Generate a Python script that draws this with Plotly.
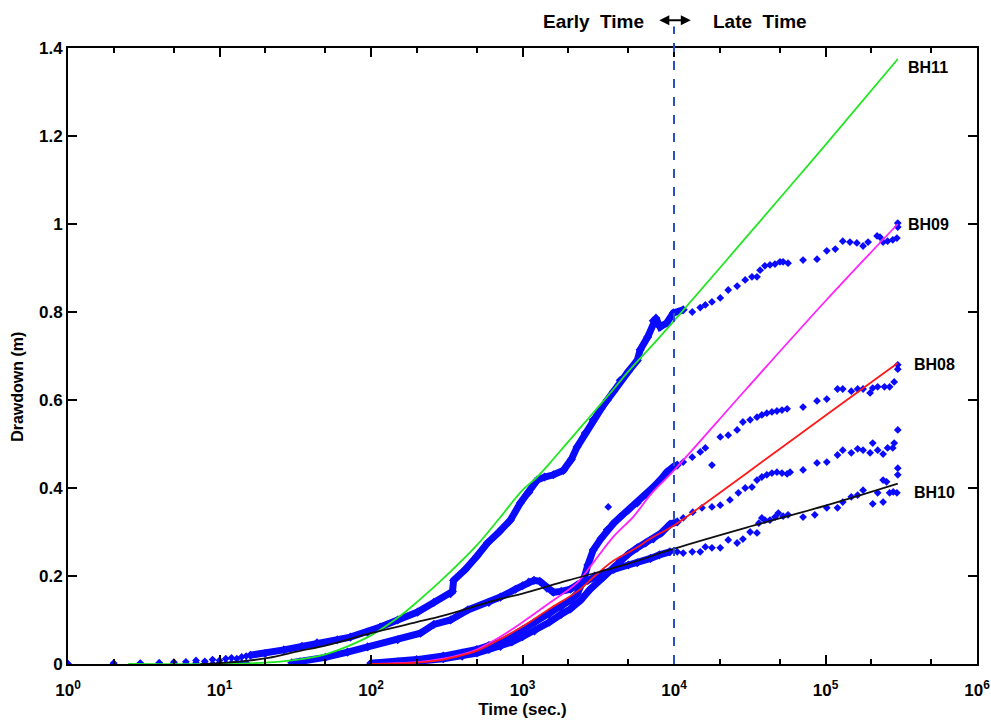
import numpy as np
import plotly.graph_objects as go

# ---------------- fitted curves ----------------
fit_bh11_t = [2.5, 10, 20, 30, 50, 70, 100, 150, 200, 335, 500, 700, 1000, 1250, 1500, 2000, 3000, 4000, 5000, 6000, 7000, 10000, 30000, 100000, 300000]
fit_bh11_s = [0.0, 0.0, 0.003, 0.008, 0.022, 0.04, 0.065, 0.105, 0.14, 0.21, 0.27, 0.33, 0.395, 0.425, 0.455, 0.505, 0.575, 0.625, 0.665, 0.695, 0.72, 0.78, 0.97, 1.18, 1.375]

fit_bh09_t = [100, 200, 300, 400, 500, 700, 1000, 1600, 2300, 3000, 4000, 5400, 7000, 10000, 30000, 100000, 300000]
fit_bh09_s = [0.0, 0.004, 0.012, 0.022, 0.033, 0.06, 0.095, 0.145, 0.185, 0.235, 0.29, 0.335, 0.385, 0.44, 0.625, 0.825, 1.0]

fit_bh08_t = [100, 200, 300, 400, 500, 700, 1000, 1500, 2300, 3000, 4000, 5400, 7000, 10000, 14900, 30000, 100000, 300000]
fit_bh08_s = [0.0, 0.003, 0.01, 0.02, 0.03, 0.055, 0.085, 0.125, 0.165, 0.2, 0.235, 0.26, 0.285, 0.315, 0.357, 0.433, 0.565, 0.684]

fit_bh10_t = [7.5, 10, 15, 21, 34, 50, 100, 200, 300, 715, 1000, 2000, 5000, 10000, 30000, 100000, 300000]
fit_bh10_s = [0.0, 0.002, 0.007, 0.014, 0.03, 0.042, 0.07, 0.095, 0.11, 0.148, 0.16, 0.19, 0.228, 0.262, 0.31, 0.36, 0.41]

# ---------------- measured drawdown (blue dots) ----------------
early_t = [1, 2, 3, 4, 5, 6, 7, 8, 9, 10, 11, 12, 13, 14, 15]
early_bh11_s = [0.0, 0.002, 0.002, 0.003, 0.004, 0.005, 0.008, 0.006, 0.01, 0.008, 0.012, 0.014, 0.012, 0.016, 0.018]
early_other_s = [0.0, 0.0, 0.001, 0.0, 0.001, 0.0, 0.002, 0.001, 0.0, 0.002, 0.001, 0.002, 0.003, 0.002, 0.003]

bh11_dense_t = [16, 20, 26.6, 35, 44, 60, 73, 95, 115, 150, 203, 260, 335, 345, 351, 420, 500, 587, 700, 832, 968, 1100, 1250, 1400, 1600, 1860, 2100, 2290, 2600, 2930, 3300, 3630, 4000, 4420, 5000, 5720, 5980, 6700, 7300, 7600, 8100, 8950, 9900, 11500]
bh11_dense_s = [0.02, 0.024, 0.032, 0.04, 0.048, 0.055, 0.061, 0.072, 0.084, 0.1, 0.118, 0.14, 0.16, 0.165, 0.19, 0.215, 0.245, 0.275, 0.3, 0.327, 0.366, 0.39, 0.418, 0.425, 0.43, 0.44, 0.465, 0.493, 0.525, 0.555, 0.58, 0.6, 0.62, 0.645, 0.665, 0.69, 0.714, 0.743, 0.78, 0.786, 0.766, 0.775, 0.798, 0.805]
bh11_late_t = [13200, 14900, 16100, 17800, 20200, 22800, 26100, 29500, 32700, 35300, 37000, 39800, 43000, 46400, 50100, 52500, 56600, 71100, 87900, 102000, 116000, 130000, 145000, 161000, 177000, 191000, 219000, 229000, 240000, 257000, 278000, 296000, 300000, 300000]
bh11_late_s = [0.80, 0.81, 0.816, 0.823, 0.832, 0.85, 0.859, 0.873, 0.88, 0.88, 0.895, 0.905, 0.907, 0.909, 0.914, 0.914, 0.911, 0.918, 0.92, 0.939, 0.943, 0.961, 0.959, 0.957, 0.95, 0.959, 0.973, 0.97, 0.959, 0.961, 0.964, 0.968, 1.002, 0.993]

bh09_dense_t = [100, 150, 200, 300, 400, 500, 600, 715, 850, 1000, 1200, 1500, 1800, 2070, 2300, 2520, 2700, 2930, 3300, 3630, 4000, 4420, 5000, 5720, 6500, 7300, 8200, 8950, 9900, 10500]
bh09_dense_s = [0.002, 0.005, 0.01, 0.018, 0.025, 0.033, 0.042, 0.05, 0.063, 0.078, 0.095, 0.113, 0.13, 0.145, 0.16, 0.19, 0.225, 0.259, 0.285, 0.305, 0.32, 0.334, 0.35, 0.366, 0.385, 0.402, 0.42, 0.436, 0.448, 0.452]
bh09_late_t = [3680, 11500, 13200, 14900, 16100, 17800, 20200, 22800, 26100, 28500, 31800, 35300, 38000, 41000, 44300, 47800, 51600, 55800, 71100, 87900, 102000, 120000, 130000, 148000, 163000, 177000, 197000, 205000, 221000, 245000, 265000, 284000, 300000, 300000]
bh09_late_s = [0.357, 0.459, 0.47, 0.482, 0.491, 0.452, 0.516, 0.52, 0.532, 0.55, 0.555, 0.561, 0.566, 0.57, 0.573, 0.575, 0.577, 0.58, 0.584, 0.598, 0.602, 0.625, 0.625, 0.62, 0.625, 0.625, 0.616, 0.627, 0.63, 0.63, 0.63, 0.641, 0.68, 0.67]

bh08_dense_t = [100, 150, 200, 300, 400, 500, 600, 715, 850, 1000, 1200, 1500, 1800, 2070, 2420, 2800, 3430, 4000, 4420, 5000, 5720, 6500, 7300, 8200, 9440, 10500]
bh08_dense_s = [0.001, 0.003, 0.006, 0.012, 0.018, 0.025, 0.033, 0.04, 0.05, 0.062, 0.075, 0.095, 0.113, 0.125, 0.145, 0.17, 0.198, 0.22, 0.236, 0.25, 0.264, 0.275, 0.284, 0.297, 0.318, 0.323]
bh08_late_t = [11500, 13300, 15300, 17800, 20200, 23400, 26600, 29500, 32700, 35300, 38000, 41000, 44300, 47800, 51600, 55800, 58400, 71100, 87900, 102000, 120000, 130000, 148000, 163000, 177000, 197000, 205000, 221000, 240000, 257000, 278000, 284000, 300000]
bh08_late_s = [0.332, 0.345, 0.355, 0.357, 0.361, 0.373, 0.389, 0.40, 0.402, 0.418, 0.425, 0.43, 0.434, 0.436, 0.434, 0.432, 0.436, 0.441, 0.457, 0.459, 0.475, 0.486, 0.48, 0.489, 0.486, 0.48, 0.502, 0.486, 0.477, 0.491, 0.491, 0.502, 0.532]

bh10_dense_t = [30, 34, 50, 70, 95, 150, 212, 260, 335, 436, 600, 715, 900, 1000, 1100, 1190, 1300, 1450, 1600, 1800, 2070, 2300, 2700, 3000, 3430, 4000, 5000, 5720, 7000, 8000, 9400]
bh10_dense_s = [0.003, 0.005, 0.015, 0.027, 0.039, 0.055, 0.07, 0.09, 0.1, 0.123, 0.14, 0.152, 0.17, 0.178, 0.186, 0.19, 0.188, 0.172, 0.163, 0.165, 0.17, 0.18, 0.19, 0.2, 0.207, 0.215, 0.225, 0.23, 0.24, 0.248, 0.255]
bh10_late_t = [10500, 11500, 13200, 14900, 16100, 17800, 20200, 22800, 26100, 28500, 31800, 35300, 36300, 38000, 39800, 43000, 46400, 48800, 52500, 56600, 71100, 85000, 102000, 120000, 130000, 148000, 163000, 177000, 205000, 221000, 240000, 240000, 253000, 265000, 280000, 296000, 300000, 300000]
bh10_late_s = [0.255, 0.252, 0.255, 0.255, 0.266, 0.264, 0.264, 0.282, 0.275, 0.284, 0.30, 0.298, 0.32, 0.332, 0.327, 0.327, 0.334, 0.343, 0.336, 0.339, 0.334, 0.339, 0.355, 0.355, 0.368, 0.38, 0.384, 0.395, 0.364, 0.389, 0.368, 0.418, 0.414, 0.389, 0.391, 0.389, 0.43, 0.445]

well_labels = ["BH11", "BH09", "BH08", "BH10"]
label_s = [1.355, 0.998, 0.68, 0.39]
label_t = [340000, 340000, 370000, 370000]
split_time = 10000

x_tickvals = [1, 10, 100, 1000, 10000, 100000, 1000000]
x_ticktext = ["10<sup>0</sup>", "10<sup>1</sup>", "10<sup>2</sup>", "10<sup>3</sup>", "10<sup>4</sup>", "10<sup>5</sup>", "10<sup>6</sup>"]
y_tickvals = [0, 0.2, 0.4, 0.6, 0.8, 1.0, 1.2, 1.4]
y_ticktext = ["0", "0.2", "0.4", "0.6", "0.8", "1", "1.2", "1.4"]

BLUE = "#0a0aff"
FONT = "Liberation Sans"

fig = go.Figure()

# dense logged data drawn as thick bands with markers
for t, s in [(bh11_dense_t, bh11_dense_s), (bh09_dense_t, bh09_dense_s),
             (bh08_dense_t, bh08_dense_s), (bh10_dense_t, bh10_dense_s)]:
    fig.add_trace(go.Scatter(x=t, y=s, mode="lines+markers",
                             line=dict(color=BLUE, width=7),
                             marker=dict(symbol="diamond", size=7, color=BLUE),
                             showlegend=False, hoverinfo="skip"))

# sparse data points
for t, s in [(early_t, early_bh11_s), (early_t, early_other_s),
             (bh11_late_t, bh11_late_s), (bh09_late_t, bh09_late_s),
             (bh08_late_t, bh08_late_s), (bh10_late_t, bh10_late_s)]:
    fig.add_trace(go.Scatter(x=t, y=s, mode="markers",
                             marker=dict(symbol="diamond", size=6, color=BLUE),
                             showlegend=False, hoverinfo="skip"))

# fitted curves
for t, s, c in [(fit_bh11_t, fit_bh11_s, "#22e622"), (fit_bh09_t, fit_bh09_s, "#ff22ff"),
                (fit_bh08_t, fit_bh08_s, "#ff1a1a"), (fit_bh10_t, fit_bh10_s, "#111111")]:
    fig.add_trace(go.Scatter(x=t, y=s, mode="lines", line=dict(color=c, width=1.8, shape="spline"),
                             showlegend=False, hoverinfo="skip"))

xmin_log, xmax_log = 0, 6
split_paper = (np.log10(split_time) - xmin_log) / (xmax_log - xmin_log)

fig.add_shape(type="line", xref="paper", yref="paper", x0=split_paper, x1=split_paper,
              y0=0, y1=1.035, line=dict(color="#2a4fc4", width=2, dash="dash"))

# Early / Late Time annotations
fig.add_annotation(xref="paper", yref="paper", x=split_paper - 0.031, y=1.043, yanchor="middle",
                   text="<b>Early  Time</b>", showarrow=False, xanchor="right",
                   font=dict(family=FONT, size=19, color="black"))
fig.add_annotation(xref="paper", yref="paper", x=split_paper + 0.041, y=1.043, yanchor="middle",
                   text="<b>Late  Time</b>", showarrow=False, xanchor="left",
                   font=dict(family=FONT, size=19, color="black"))
fig.add_annotation(xref="paper", yref="paper", x=split_paper + 0.0185, y=1.045,
                   ax=-33, ay=0, text="", showarrow=True, arrowhead=2, arrowside="end+start",
                   arrowsize=1, arrowwidth=2, arrowcolor="black")

for lab, t, s in zip(well_labels, label_t, label_s):
    fig.add_annotation(x=np.log10(t), y=s, xref="x", yref="y", text="<b>" + lab + "</b>",
                       showarrow=False, xanchor="left", font=dict(family=FONT, size=16, color="black"))

# y-axis title as rotated text
fig.add_annotation(xref="paper", yref="paper", x=-0.055, y=0.45, text="<b>Drawdown (m)</b>",
                   textangle=-90, showarrow=False, xanchor="center", yanchor="middle",
                   font=dict(family=FONT, size=16, color="black"))

axis_common = dict(showline=True, linecolor="black", linewidth=2, mirror="allticks",
                   ticks="inside", tickcolor="black", tickwidth=2, ticklen=9,
                   showgrid=False, zeroline=False, automargin=False,
                   tickfont=dict(family=FONT, size=17, color="black", weight="bold"))

fig.update_xaxes(type="log", range=[xmin_log, xmax_log], tickvals=x_tickvals, ticktext=x_ticktext,
                 ticklabelstandoff=10,
                 minor=dict(ticks="inside", ticklen=5, tickwidth=1.5, tickcolor="black"),
                 title=dict(text="<b>Time (sec.)</b>", font=dict(family=FONT, size=17, color="black"), standoff=4),
                 **axis_common)
fig.update_yaxes(range=[0, 1.4], tickvals=y_tickvals, ticktext=y_ticktext,
                 **axis_common)

fig.update_layout(width=991, height=723, plot_bgcolor="white", paper_bgcolor="white",
                  margin=dict(l=68, r=14, t=48, b=59), showlegend=False)

fig.write_html("out.html")
